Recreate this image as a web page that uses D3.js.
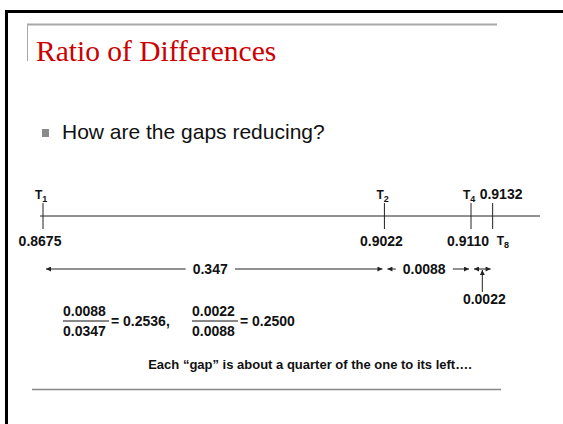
<!DOCTYPE html>
<html>
<head>
<meta charset="utf-8">
<script src="https://cdn.jsdelivr.net/npm/d3@7/dist/d3.min.js"></script>
<style>
body { margin: 0; background: #fff; }
svg { display: block; }
text { font-family: "Liberation Sans", Arial, sans-serif; }
</style>
</head>
<body>
<svg id="chart" width="563" height="424"></svg>
<script>
// terms of the sequence (subscript, value)
const termSubs = ['1', '2', '4', '8'];
const termValues = [0.8675, 0.9022, 0.9110, 0.9132];
// gaps between consecutive terms, as printed on the slide
const gapLabels = ['0.347', '0.0088', '0.0022'];
// ratios of successive gaps
const ratioNums = ['0.0088', '0.0022'];
const ratioDens = ['0.0347', '0.0088'];
const ratioResults = ['= 0.2536,', '= 0.2500'];

const titleText = 'Ratio of Differences';
const bulletText = 'How are the gaps reducing?';
const captionText = 'Each \u201cgap\u201d is about a quarter of the one to its left\u2026.';

const svg = d3.select('#chart');
const width = 563, height = 424;

svg.append('rect').attr('width', width).attr('height', height).attr('fill', '#fff');

// slide frame
svg.append('path')
    .attr('d', `M6.5,${height} V11.5 H${width}`)
    .attr('fill', 'none').attr('stroke', '#000').attr('stroke-width', 3);

// title decoration
svg.append('line').attr('x1', 27).attr('x2', 497).attr('y1', 24.5).attr('y2', 24.5)
    .attr('stroke', '#a8a8a8').attr('stroke-width', 2);
svg.append('line').attr('x1', 27.5).attr('x2', 27.5).attr('y1', 24).attr('y2', 61)
    .attr('stroke', '#a8a8a8').attr('stroke-width', 1);

svg.append('text')
    .attr('x', 36).attr('y', 61)
    .style('font-family', '"Liberation Serif", "Times New Roman", serif')
    .style('font-size', '29.5px')
    .attr('fill', '#cc0000')
    .text(titleText);

// bullet
svg.append('rect').attr('x', 42).attr('y', 129).attr('width', 7).attr('height', 8).attr('fill', '#8a8a8a');
svg.append('text')
    .attr('x', 62).attr('y', 139)
    .style('font-size', '21px')
    .attr('fill', '#111')
    .text(bulletText);

// number line
const lineY = 216;
const x = d3.scaleLinear()
    .domain([termValues[0], termValues[2]])
    .range([43, 471]);

const defs = svg.append('defs');
defs.append('marker')
    .attr('id', 'arrow')
    .attr('viewBox', '0 0 6 6')
    .attr('refX', 6).attr('refY', 3)
    .attr('markerWidth', 6).attr('markerHeight', 5)
    .attr('markerUnits', 'userSpaceOnUse')
    .attr('orient', 'auto-start-reverse')
    .append('path').attr('d', 'M0,0 L6,3 L0,6 Z').attr('fill', '#222');

svg.append('line')
    .attr('x1', 40).attr('x2', 540)
    .attr('y1', lineY).attr('y2', lineY)
    .attr('stroke', '#222').attr('stroke-width', 1);

const terms = termValues.map((v, i) => ({ sub: termSubs[i], value: v, last: i === termValues.length - 1 }));

const tick = svg.selectAll('g.term')
    .data(terms)
    .enter()
    .append('g')
    .attr('class', 'term')
    .attr('transform', d => `translate(${x(d.value)},0)`);

tick.append('line')
    .attr('y1', lineY - 13).attr('y2', lineY + 13)
    .attr('stroke', '#222').attr('stroke-width', 1);

// T labels (above, except the last one which sits below)
const tLabel = tick.append('text')
    .attr('x', d => d.last ? 4 : -8)
    .attr('y', d => d.last ? lineY + 29 : lineY - 17)
    .style('font-size', '12px')
    .style('font-weight', 'bold')
    .attr('fill', '#111');
tLabel.append('tspan').text('T');
tLabel.append('tspan')
    .attr('dy', 3)
    .style('font-size', '9px')
    .text(d => d.sub);

// value labels (below, except the last one which sits above, clear of the T4 label)
tick.append('text')
    .attr('x', d => d.last ? -13 : -3)
    .attr('y', d => d.last ? lineY - 17 : lineY + 30)
    .attr('text-anchor', d => d.last ? 'start' : 'middle')
    .style('font-size', '14px')
    .style('font-weight', 'bold')
    .attr('fill', '#111')
    .text(d => d.value.toFixed(4));

// gap arrows
const arrowY = 269;
const gaps = gapLabels.map((label, i) => ({
    label,
    x0: x(termValues[i]) + 3,
    x1: x(termValues[i + 1]) - 2,
    below: i === gapLabels.length - 1,
}));

const gap = svg.selectAll('g.gap')
    .data(gaps)
    .enter()
    .append('g')
    .attr('class', 'gap');

gap.append('line')
    .attr('x1', d => d.x0).attr('x2', d => d.x1)
    .attr('y1', arrowY).attr('y2', arrowY)
    .attr('stroke', '#222').attr('stroke-width', 1)
    .attr('marker-start', 'url(#arrow)')
    .attr('marker-end', 'url(#arrow)');

gap.filter(d => !d.below).each(function (d) {
    const g = d3.select(this);
    const cx = (d.x0 + d.x1) / 2 - 4;
    const label = g.append('text')
        .attr('x', cx).attr('y', arrowY + 5)
        .attr('text-anchor', 'middle')
        .style('font-size', '14px')
        .style('font-weight', 'bold')
        .attr('fill', '#111')
        .text(d.label);
    const bb = label.node().getBBox();
    g.insert('rect', 'text')
        .attr('x', bb.x - 7).attr('y', arrowY - 3)
        .attr('width', bb.width + 14).attr('height', 6)
        .attr('fill', '#fff');
});

const under = gap.filter(d => d.below);
under.append('line')
    .attr('x1', d => (d.x0 + d.x1) / 2).attr('x2', d => (d.x0 + d.x1) / 2)
    .attr('y1', arrowY + 23).attr('y2', arrowY + 1)
    .attr('stroke', '#222').attr('stroke-width', 1)
    .attr('marker-end', 'url(#arrow)');
under.append('text')
    .attr('x', d => (d.x0 + d.x1) / 2 + 2).attr('y', 304)
    .attr('text-anchor', 'middle')
    .style('font-size', '14px')
    .style('font-weight', 'bold')
    .attr('fill', '#111')
    .text(d => d.label);

// ratio fractions
const ratios = ratioNums.map((n, i) => ({ num: n, den: ratioDens[i], res: ratioResults[i] }));
const fracX = [63, 192];
const frac = svg.selectAll('g.frac')
    .data(ratios)
    .enter()
    .append('g')
    .attr('class', 'frac')
    .attr('transform', (d, i) => `translate(${fracX[i]},0)`)
    .style('font-size', '14px')
    .style('font-weight', 'bold')
    .attr('fill', '#111');

frac.append('text').attr('x', 0).attr('y', 316).text(d => d.num);
frac.append('text').attr('x', 0).attr('y', 336).text(d => d.den);
frac.append('line')
    .attr('x1', 0).attr('x2', 46)
    .attr('y1', 321).attr('y2', 321)
    .attr('stroke', '#111').attr('stroke-width', 1);
frac.append('text').attr('x', 48).attr('y', 326).text(d => d.res);

// caption
svg.append('text')
    .attr('x', 310).attr('y', 369)
    .attr('text-anchor', 'middle')
    .style('font-size', '13px')
    .style('font-weight', 'bold')
    .attr('fill', '#111')
    .text(captionText);

svg.append('line').attr('x1', 32).attr('x2', 501).attr('y1', 389.5).attr('y2', 389.5)
    .attr('stroke', '#888').attr('stroke-width', 1.5);
</script>
</body>
</html>
